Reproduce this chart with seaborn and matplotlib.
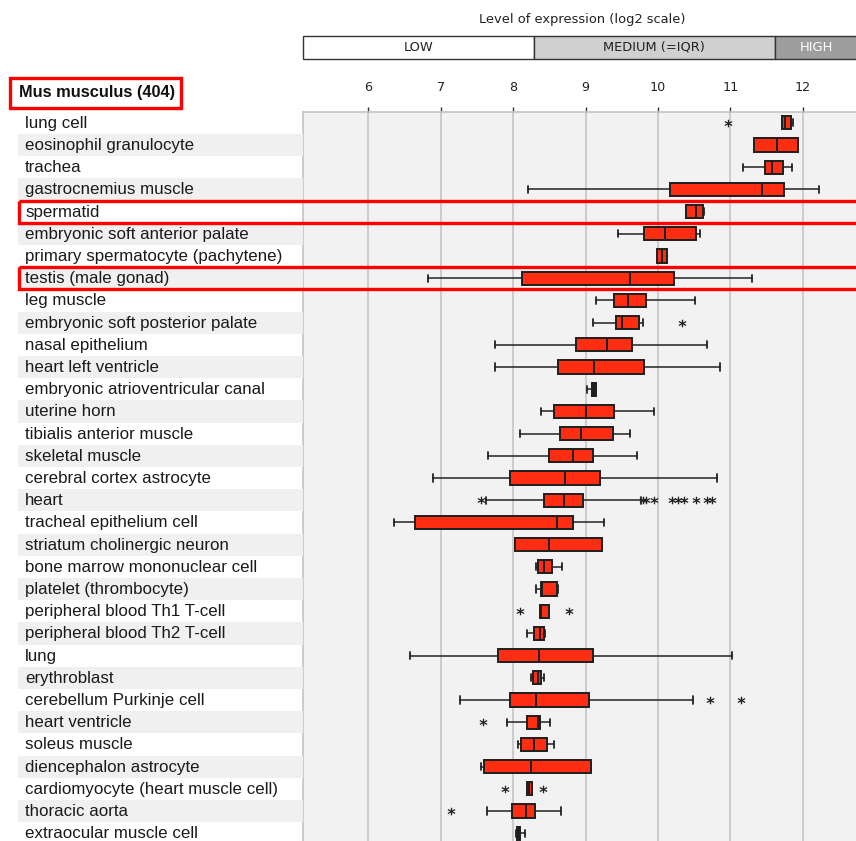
import matplotlib
matplotlib.use("Agg")
import matplotlib.pyplot as plt
from matplotlib.patches import Rectangle
from matplotlib.transforms import blended_transform_factory
import seaborn as sns
import pandas as pd

# ---------------- data ----------------
title_text = "Mus musculus (404)"
axis_title = "Level of expression (log2 scale)"
band_labels = ["LOW", "MEDIUM (=IQR)", "HIGH"]
band_edges = [8.29, 11.61]          # LOW | MEDIUM | HIGH boundaries
x_ticks = [6, 7, 8, 9, 10, 11, 12]

tissues = [
    "lung cell", "eosinophil granulocyte", "trachea", "gastrocnemius muscle",
    "spermatid", "embryonic soft anterior palate",
    "primary spermatocyte (pachytene)", "testis (male gonad)", "leg muscle",
    "embryonic soft posterior palate", "nasal epithelium",
    "heart left ventricle", "embryonic atrioventricular canal", "uterine horn",
    "tibialis anterior muscle", "skeletal muscle", "cerebral cortex astrocyte",
    "heart", "tracheal epithelium cell", "striatum cholinergic neuron",
    "bone marrow mononuclear cell", "platelet (thrombocyte)",
    "peripheral blood Th1 T-cell", "peripheral blood Th2 T-cell", "lung",
    "erythroblast", "cerebellum Purkinje cell", "heart ventricle",
    "soleus muscle", "diencephalon astrocyte",
    "cardiomyocyte (heart muscle cell)", "thoracic aorta",
    "extraocular muscle cell",
]
highlighted = ["spermatid", "testis (male gonad)"]

whislo = [11.71, 11.33, 11.18, 8.21, 10.39, 9.45, 9.98, 6.83, 9.15, 9.10,
          7.75, 7.75, 9.02, 8.39, 8.10, 7.65, 6.89, 7.63, 6.35, 8.02, 8.31,
          8.32, 8.37, 8.19, 6.58, 8.25, 7.27, 7.91, 8.06, 7.55, 8.19, 7.64,
          8.04]
q1 = [11.71, 11.33, 11.48, 10.16, 10.39, 9.81, 9.98, 8.12, 9.39, 9.42,
      8.87, 8.62, 9.09, 8.56, 8.65, 8.50, 7.96, 8.43, 6.65, 8.02, 8.34,
      8.39, 8.37, 8.29, 7.79, 8.27, 7.96, 8.19, 8.11, 7.59, 8.19, 7.98, 8.05]
median = [11.76, 11.64, 11.58, 11.43, 10.52, 10.10, 10.06, 9.62, 9.58, 9.50,
          9.29, 9.12, 9.12, 9.00, 8.94, 8.83, 8.72, 8.70, 8.60, 8.50, 8.43,
          8.40, 8.39, 8.37, 8.35, 8.34, 8.32, 8.34, 8.29, 8.25, 8.22, 8.18,
          8.08]
q3 = [11.84, 11.93, 11.72, 11.74, 10.62, 10.53, 10.12, 10.22, 9.83, 9.74,
      9.64, 9.81, 9.15, 9.39, 9.38, 9.10, 9.20, 8.97, 8.83, 9.22, 8.54,
      8.61, 8.49, 8.43, 9.10, 8.39, 9.05, 8.37, 8.46, 9.07, 8.26, 8.30, 8.10]
whishi = [11.87, 11.93, 11.85, 12.22, 10.64, 10.58, 10.12, 11.30, 10.51, 9.79,
          10.68, 10.86, 9.15, 9.95, 9.62, 9.71, 10.82, 9.77, 9.26, 9.23, 8.67,
          8.62, 8.49, 8.44, 11.02, 8.43, 10.48, 8.51, 8.56, 9.07, 8.26, 8.66,
          8.16]
outliers = {
    "lung cell": [10.97],
    "embryonic soft posterior palate": [10.33],
    "heart": [7.55, 9.79, 9.83, 9.94, 10.19, 10.28, 10.36, 10.53, 10.67, 10.74],
    "peripheral blood Th1 T-cell": [8.10, 8.77],
    "cerebellum Purkinje cell": [10.72, 11.15],
    "heart ventricle": [7.58],
    "cardiomyocyte (heart muscle cell)": [7.89, 8.41],
    "thoracic aorta": [7.14],
}

# ---------------- layout helpers (pixels) ----------------
W, H = 856, 841
PLOT_L, PLOT_T = 303, 111.7
ROW_H = 22.2
PX_PER_UNIT = 72.4
X6_PX = 368.4
xmin = 6 + (PLOT_L - X6_PX) / PX_PER_UNIT
xmax = 6 + (W - X6_PX) / PX_PER_UNIT
ybottom = -0.5 + (H - PLOT_T) / ROW_H

sns.set_style("white")
plt.rcParams["font.family"] = ["Liberation Sans", "DejaVu Sans"]

fig = plt.figure(figsize=(W / 100, H / 100), dpi=100)

# main plot axes
ax = fig.add_axes([PLOT_L / W, 0, (W - PLOT_L) / W, (H - PLOT_T) / H])
ax.set_facecolor("#f2f2f2")
ax.set_xlim(xmin, xmax)
ax.set_ylim(ybottom, -0.5)

stats = []
for i, t in enumerate(tissues):
    stats.append(dict(label=t, whislo=whislo[i], q1=q1[i], med=median[i],
                      q3=q3[i], whishi=whishi[i], fliers=[]))

for xv in x_ticks:
    ax.axvline(xv, color="#c9c9c9", lw=1.3, zorder=0)

ax.bxp(stats, positions=list(range(len(tissues))), widths=0.6,
       orientation="horizontal", patch_artist=True, showfliers=False,
       manage_ticks=False, capwidths=0.32,
       boxprops=dict(facecolor="#ff2d12", edgecolor="#1e1e1e", linewidth=1.4),
       whiskerprops=dict(color="#222222", linewidth=1.1),
       capprops=dict(color="#222222", linewidth=1.3),
       medianprops=dict(color="#1e1e1e", linewidth=1.4))

rows, vals = [], []
for t, vs in outliers.items():
    for v in vs:
        rows.append(tissues.index(t))
        vals.append(v)
df_out = pd.DataFrame({"value": vals, "row": rows})
sns.scatterplot(data=df_out, x="value", y="row", marker=r"$\mathbf{*}$",
                color="#222222", s=32, linewidth=0, ax=ax, zorder=5,
                legend=False)

ax.set_xlabel("")
ax.set_ylabel("")
ax.set_yticks([])
ax.xaxis.tick_top()
ax.set_xticks(x_ticks)
ax.set_xticklabels([str(t) for t in x_ticks], family="DejaVu Sans", fontsize=9.2,
                   color="#222222")
ax.tick_params(axis="x", direction="out", length=3.5, width=1, color="#333333",
               pad=9.5, top=True, bottom=False)
ax.grid(False)
for s in ["right", "bottom"]:
    ax.spines[s].set_visible(False)
for s in ["top", "left"]:
    ax.spines[s].set_color("#c4c4c4")
    ax.spines[s].set_linewidth(1.2)

# label column axes
axl = fig.add_axes([18 / W, 0, (PLOT_L - 18) / W, (H - PLOT_T) / H])
axl.set_xlim(0, 1)
axl.set_ylim(ybottom, -0.5)
axl.axis("off")
for i, t in enumerate(tissues):
    if i % 2 == 1:
        axl.axhspan(i - 0.5, i + 0.5, color="#f0f0f0", lw=0, zorder=0)
    axl.text((25 - 18) / (PLOT_L - 18), i + 0.02, t, fontsize=12.2,
             color="#1a1a1a", va="center", ha="left")

# highlight rectangles
tr = blended_transform_factory(fig.transFigure, ax.transData)
for t in highlighted:
    i = tissues.index(t)
    fig.patches.append(Rectangle((19 / W, i - 0.5), 1.0, 1.0, transform=tr,
                                 fill=False, edgecolor="#ff0000", lw=2.4,
                                 zorder=10, clip_on=False))

# title box
fig.text(19 / W, 1 - 93 / H, title_text, fontsize=11.8, fontweight="bold",
         va="center", ha="left", color="#111111")
fig.patches.append(Rectangle((10 / W, 1 - 108 / H), 171 / W, 30 / H,
                             transform=fig.transFigure, fill=False,
                             edgecolor="#ff0000", lw=2.4))

# header bands
axh = fig.add_axes([PLOT_L / W, 1 - 59 / H, (W - PLOT_L) / W, 23 / H])
axh.set_xlim(xmin, xmax)
axh.set_ylim(0, 1)
axh.axis("off")
edges = [xmin + 0.003, band_edges[0], band_edges[1], xmax + 0.1]
fills = ["#ffffff", "#d0d0d0", "#9e9e9e"]
tcols = ["#222222", "#222222", "#ffffff"]
for k in range(3):
    axh.add_patch(Rectangle((edges[k], 0.02), edges[k + 1] - edges[k], 0.96,
                            facecolor=fills[k], edgecolor="#333333", lw=1.0,
                            clip_on=False))
    cx = (edges[k] + edges[k + 1]) / 2
    if k == 2:
        cx = (band_edges[1] + 6 + (859 - X6_PX) / PX_PER_UNIT) / 2
    axh.text(cx, 0.5, band_labels[k], ha="center", va="center",
             family="DejaVu Sans", fontsize=9.4, color=tcols[k])

fig.text(582 / W, 1 - 20 / H, axis_title, ha="center", va="center",
         family="DejaVu Sans", fontsize=9.4, color="#222222")

fig.savefig("out.png", dpi=100)
